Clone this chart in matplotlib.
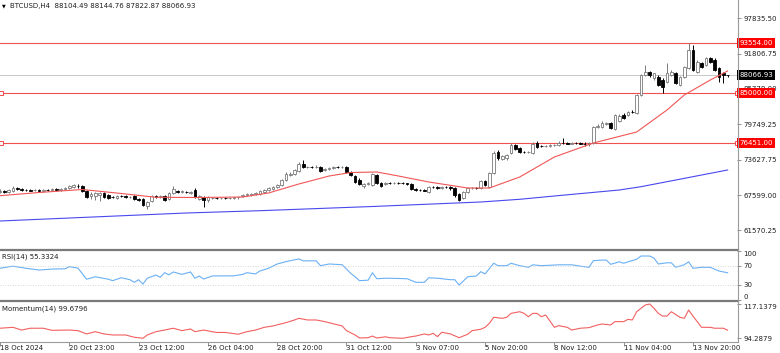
import matplotlib
matplotlib.use('Agg')
import matplotlib.pyplot as plt
import matplotlib.transforms as mtransforms
from matplotlib.lines import Line2D
import numpy as np

# ---- BTCUSD H4 candles ----
opens = [68126, 68297, 68126, 68297, 68810, 68639, 68468, 68468, 68400, 68468,
         68297, 68468, 68420, 68639, 68468, 68639, 68810, 68981, 69152, 69152,
         68297, 67442, 67442, 67613, 67955, 67613, 67271, 67100, 67442, 67442,
         67271, 67442, 66929, 66929, 65732, 66587, 67442, 67271, 67442, 66929,
         67955, 68297, 68126, 68126, 67955, 68468, 66929, 67271, 66758, 67100,
         67150, 67080, 67130, 67100, 67160, 67200, 67442, 67613, 67613, 67784,
         67784, 68126, 68468, 68639, 68981, 69323, 70178, 71033, 71204, 71717,
         72914, 72401, 72450, 72400, 72401, 71888, 72059, 72230, 72401, 72350,
         72401, 71546, 70862, 70178, 69152, 69494, 69323, 71033, 69665, 69494,
         69665, 69600, 69700, 69640, 69580, 69494, 68639, 68468, 68430, 68126,
         68981, 68930, 68810, 68981, 68900, 68810, 67784, 67100, 68126, 68810,
         68850, 68810, 70007, 68981, 71375, 74966, 73769, 73940, 74795, 76163,
         75650, 74966, 74930, 74795, 76505, 75992, 75950, 76050, 76130, 76163,
         76505, 76450, 76400, 76480, 76420, 76334, 76300, 76505, 79241, 79241,
         79754, 79925, 78899, 80267, 81293, 81293, 81806, 81635, 84713, 88133,
         88646, 87620, 87791, 87278, 86936, 88133, 88475, 86423, 87791, 89330,
         92408, 88646, 90185, 89843, 91040, 90698, 89330, 88475, 88104.49]
highs = [68639, 68468, 68639, 69152, 68981, 68810, 68639, 68639, 68639, 68639,
         68639, 68639, 68810, 68810, 68810, 68981, 69323, 69494, 69494, 69323,
         68468, 68126, 68126, 68126, 68126, 67784, 67442, 67613, 67613, 67613,
         67442, 67613, 67100, 67100, 66587, 67613, 67613, 67613, 67613, 68126,
         69152, 68468, 68468, 68297, 68297, 68810, 67613, 67442, 67442, 67271,
         67271, 67271, 67271, 67271, 67300, 67350, 67784, 67955, 67955, 68126,
         68468, 68639, 68981, 69152, 69494, 70349, 71546, 71546, 72059, 73256,
         73598, 72572, 72620, 72743, 72572, 72230, 72401, 72572, 72572, 72572,
         72572, 71717, 71033, 70520, 69665, 69836, 71375, 71204, 69836, 69836,
         69836, 69836, 69836, 69836, 69750, 69665, 68810, 68639, 68639, 69152,
         69152, 69152, 69152, 69152, 69100, 68981, 67955, 68297, 68981, 68981,
         68981, 70178, 70178, 71546, 75137, 75308, 74453, 74624, 76505, 76334,
         75821, 75137, 75137, 76676, 76847, 76163, 76163, 76334, 76334, 76847,
         77360, 76676, 76676, 76676, 76676, 76676, 76676, 79412, 79754, 80267,
         80096, 80096, 81464, 81464, 81635, 81977, 82148, 84884, 88304, 89843,
         88817, 88560, 88133, 87620, 90185, 88988, 88646, 87962, 89672, 93554,
         93263, 90698, 90356, 91211, 91211, 91040, 89501, 88646, 88144.76]
lows = [67955, 67955, 67955, 68126, 68468, 68297, 68297, 68297, 68297, 68126,
        68126, 68297, 68297, 68297, 68297, 68468, 68639, 68810, 68810, 68126,
        67100, 66929, 66758, 66587, 67100, 66929, 67100, 66929, 67271, 67100,
        67100, 66758, 66587, 65732, 65219, 66416, 67100, 67100, 66587, 66758,
        67784, 67955, 67955, 67955, 67784, 67100, 66758, 65561, 66416, 66929,
        66929, 66929, 66929, 66929, 66960, 67000, 67271, 67442, 67500, 67613,
        67613, 67955, 68297, 68468, 68810, 69152, 70007, 70862, 71033, 71546,
        72230, 72230, 72260, 72230, 71546, 71717, 71888, 72059, 72230, 72230,
        71375, 70862, 69665, 69323, 68810, 69323, 69152, 69494, 68981, 69323,
        69494, 69494, 69494, 69494, 69400, 68468, 68297, 68297, 68297, 67955,
        68810, 68639, 68639, 68810, 68468, 67271, 66587, 66929, 67955, 68639,
        68639, 68639, 69152, 68810, 71204, 73598, 73598, 73598, 74624, 75308,
        74795, 74795, 74795, 74624, 75650, 75821, 75821, 75821, 75992, 75992,
        76334, 76334, 76334, 76334, 76250, 75992, 75992, 76334, 79070, 79070,
        79583, 78899, 78728, 80096, 80609, 81122, 81635, 81464, 84542, 87962,
        87791, 87278, 86252, 85055, 86765, 87962, 86594, 86252, 87620, 89159,
        88817, 88475, 89330, 89672, 90185, 88817, 86936, 86765, 87822.87]
closes = [68297, 68126, 68468, 68810, 68639, 68468, 68440, 68380, 68470, 68297,
          68468, 68420, 68639, 68468, 68639, 68810, 69152, 69323, 69070, 68297,
          67271, 67784, 67955, 67955, 67271, 67100, 67230, 67442, 67400, 67271,
          67350, 66929, 66758, 65903, 66416, 67442, 67271, 67442, 66758, 67955,
          68639, 68126, 68297, 68080, 68126, 67271, 67442, 66758, 67271, 67150,
          67080, 67130, 67100, 67160, 67200, 67250, 67613, 67784, 67784, 67955,
          68297, 68468, 68810, 68981, 69323, 70178, 71204, 71204, 71888, 72914,
          72401, 72450, 72400, 72480, 71717, 72059, 72230, 72401, 72350, 72420,
          71546, 71033, 69836, 69494, 69494, 69665, 71204, 69665, 69152, 69665,
          69600, 69700, 69640, 69580, 69500, 68639, 68468, 68430, 68380, 68981,
          68930, 68810, 68981, 68900, 68860, 67613, 66758, 68126, 68810, 68850,
          68780, 70007, 69323, 71375, 74795, 73940, 74282, 74453, 76163, 75479,
          74966, 74930, 75050, 76334, 75821, 75950, 76050, 76130, 76200, 76505,
          76450, 76400, 76480, 76420, 76380, 76300, 76505, 79241, 79412, 79925,
          79900, 79070, 81293, 81122, 80780, 81806, 81780, 84713, 88133, 88646,
          88133, 88475, 86423, 86081, 88475, 88646, 86765, 87791, 89501, 92408,
          88988, 90356, 89501, 91040, 90356, 88988, 87791, 88133, 88066.93]

# moving averages (vertices)
ma_fast_bars = [0, 9, 19, 28, 36, 46, 56, 62, 69, 76, 81, 87, 92, 99, 108, 113,
                120, 128, 137, 147, 154, 158, 164, 168]
ma_fast_vals = [67493, 68040, 68553, 67870, 67220, 67186, 67271, 67955, 69494,
                70862, 71461, 71546, 70862, 69836, 68810, 68810, 70691, 74111,
                76505, 78386, 82148, 84713, 87278, 88817]
ma_slow_bars = [0, 43, 60, 86, 111, 120, 128, 143, 148, 168]
ma_slow_vals = [63167, 64535, 64928, 65647, 66416, 66878, 67442, 68468, 69032, 71888]

levels = [93554.00, 85000.00, 76451.00]
last_price = 88066.93
price_ticks = [61570.25, 67599.00, 73627.75, 79749.25, 85778.00, 91806.75, 97835.50]

rsi_bars = [0, 3, 6, 9, 12, 15, 16, 18, 20, 22, 25, 26, 28, 30, 31, 32, 33, 34, 36,
            37, 38, 39, 40, 42, 44, 45, 46, 47, 49, 54, 56, 57, 59, 60, 62, 64, 66,
            69, 70, 73, 74, 76, 79, 81, 82, 83, 85, 86, 87, 89, 90, 94, 96, 98, 99,
            101, 104, 105, 106, 108, 110, 111, 112, 114, 115, 117, 118, 120, 122,
            123, 125, 129, 132, 134, 136, 137, 139, 140, 141, 143, 144, 145, 147,
            148, 150, 151, 152, 154, 155, 156, 158, 159, 160, 162, 164, 166, 168]
rsi_vals = [64.6, 69, 64.6, 61, 63, 63.5, 68, 65, 42, 47, 42, 39, 45, 41, 35.6, 41,
            32, 44, 50.7, 46, 55.5, 51, 57, 52, 57, 44, 48.7, 42.4, 48.7, 49, 52,
            55.5, 53, 59, 64.6, 73.5, 78.3, 84, 80, 80, 70, 73.5, 72, 54, 47, 39, 40,
            55.5, 43, 44, 44, 43, 35.6, 35.6, 45, 44, 41, 41, 30, 47, 48.7, 57.6, 53,
            75, 70, 70, 75, 70, 66.6, 71.8, 70, 71.8, 71.8, 69, 66.6, 80.3, 81.6,
            81.6, 72.8, 78, 75, 78, 83.2, 90, 90, 85.8, 73.5, 76, 76, 66.6, 72, 78,
            64.6, 66.6, 66.6, 59, 55.33]

mom_bars = [0, 3, 5, 7, 10, 12, 16, 18, 20, 22, 24, 26, 29, 31, 33, 34, 36, 38, 40,
            42, 44, 45, 47, 49, 50, 52, 55, 57, 59, 61, 63, 66, 68, 69, 71, 73, 75,
            79, 80, 82, 83, 85, 86, 87, 89, 90, 93, 95, 96, 98, 99, 100, 101, 102,
            104, 106, 108, 109, 111, 112, 113, 114, 116, 117, 118, 120, 121, 122,
            123, 124, 125, 126, 128, 129, 131, 132, 134, 136, 138, 139, 141, 142,
            144, 145, 146, 147, 149, 150, 151, 152, 153, 154, 155, 157, 158, 159,
            160, 162, 164, 165, 167, 168]
mom_vals = [101.0, 101.6, 99.8, 101.0, 101.0, 99.6, 99.8, 99.4, 97.2, 98.7, 97.2,
            96.5, 96.5, 95.0, 94.3, 96.5, 98.7, 99.8, 101.0, 99.4, 100.5, 98.7, 99.8,
            98.7, 98.2, 98.2, 97.0, 98.7, 99.8, 101.6, 102.5, 104.7, 106.5, 107.6,
            106.5, 106.5, 105.4, 102.5, 99.4, 96.5, 94.5, 94.7, 95.8, 94.5, 95.3,
            94.7, 94.3, 95.4, 95.8, 97.2, 96.5, 97.6, 95.4, 98.3, 97.2, 94.7, 97.0,
            99.4, 100.3, 101.6, 104.3, 108.3, 107.6, 108.3, 110.9, 112.0, 110.9,
            108.7, 110.9, 110.9, 108.7, 109.8, 101.6, 102.7, 101.6, 99.8, 101.0,
            101.4, 103.2, 103.8, 103.2, 105.4, 105.4, 106.9, 106.5, 112.0, 116.5,
            117.14, 114.3, 110.9, 109.1, 109.1, 112.0, 108.3, 107.6, 113.1, 109.1,
            101.6, 101.6, 101.0, 101.0, 99.68]
mom_min, mom_max = 94.2879, 117.1379

tick_bars = [0, 16, 32, 48, 64, 80, 96, 112, 128, 144, 160]
tick_labels = ['18 Oct 2024', '20 Oct 23:00', '23 Oct 12:00', '26 Oct 04:00',
               '28 Oct 20:00', '31 Oct 12:00', '3 Nov 07:00', '5 Nov 20:00',
               '8 Nov 12:00', '11 Nov 04:00', '13 Nov 20:00']

FS = 5
W, H = 780, 353


def rect(x0, y0, x1, y1):
    return [x0 / W, 1 - y1 / H, (x1 - x0) / W, (y1 - y0) / H]


fig = plt.figure(figsize=(7.8, 3.53), dpi=100)
ax = fig.add_axes(rect(0, 0, 737, 248.5))
ax_rsi = fig.add_axes(rect(0, 250.5, 737, 300), sharex=ax)
ax_mom = fig.add_axes(rect(0, 302, 737, 341.7), sharex=ax)

for a in (ax, ax_rsi, ax_mom):
    for s in a.spines.values():
        s.set_visible(False)
    a.tick_params(axis='x', which='both', length=0, labelbottom=False)
    a.yaxis.tick_right()
    a.tick_params(axis='y', length=3, width=0.6, color='#808080', pad=1.5,
                  labelsize=FS, labelcolor='#202020')

ax.set_xlim(0.2536, 170.17)

# ---- candles ----
o = np.array(opens)
h = np.array(highs)
l = np.array(lows)
c = np.array(closes)
x = np.arange(len(c))
up = c >= o
edge = np.where(up, '#7a7a7a', '#000000')
face = np.where(up, '#ffffff', '#000000')
ax.vlines(x, l, h, colors=edge, linewidth=0.7, zorder=3)
ax.bar(x, np.abs(c - o), width=0.62, bottom=np.minimum(o, c), color=face,
       edgecolor=edge, linewidth=0.6, zorder=4)

ax.plot(ma_fast_bars, ma_fast_vals, color='#f25555', lw=0.8, zorder=5)
ax.plot(ma_slow_bars, ma_slow_vals, color='#4848f0', lw=0.8, zorder=5)

ax.axhline(last_price, color='#c8c8c8', lw=0.7, zorder=1)
x0, x1 = ax.get_xlim()
for i, lv in enumerate(levels):
    ax.axhline(lv, color='#f05050', lw=0.8, zorder=2)
    if i > 0:
        ax.plot([x0, x1], [lv, lv], ls='none', marker='s', ms=2.5, mfc='white',
                mec='#f03030', mew=0.6, clip_on=False, zorder=6)

ax.set_ylim(58464, 100958)
ax.set_yticks(price_ticks)
ax.set_yticklabels(['%.2f' % p for p in price_ticks])

btrans = mtransforms.blended_transform_factory(ax.transAxes, ax.transData)
for lv in levels:
    ax.text(1.003, lv, '%.2f' % lv, transform=btrans, ha='left', va='center',
            fontsize=FS, color='white', clip_on=False, zorder=10,
            bbox=dict(boxstyle='square,pad=0.3', fc='#ff0000', ec='none'))
ax.text(1.003, last_price, '%.2f' % last_price, transform=btrans, ha='left',
        va='center', fontsize=FS, color='white', clip_on=False, zorder=10,
        bbox=dict(boxstyle='square,pad=0.3', fc='#000000', ec='none'))

ax.text(0.003, 0.976, '\u25bc', transform=ax.transAxes, fontsize=3.5,
        ha='left', va='center', color='black')
ax.text(0.013, 0.976, 'BTCUSD,H4  %.2f %.2f %.2f %.2f' % (opens[-1], highs[-1], lows[-1], closes[-1]),
        transform=ax.transAxes, fontsize=FS, ha='left', va='center', color='#202020')

# ---- RSI ----
ax_rsi.plot(rsi_bars, rsi_vals, color='#6ab0f5', lw=0.8)
for lv in (70, 30):
    ax_rsi.axhline(lv, color='#c8c8c8', lw=0.6, ls=(0, (1, 2)))
ax_rsi.set_ylim(-1.0, 101.4)
ax_rsi.set_yticks([0, 30, 70, 100])
ax_rsi.set_yticklabels(['0', '30', '70', '100'])
for lab, va in zip(ax_rsi.get_yticklabels(), ['bottom', 'center', 'center', 'top']):
    lab.set_va(va)
ax_rsi.text(0.003, 0.87, 'RSI(14) %.4f' % 55.3324, transform=ax_rsi.transAxes,
            fontsize=FS, ha='left', va='center', color='#202020')

# ---- Momentum ----
ax_mom.plot(mom_bars, mom_vals, color='#f26060', lw=0.8)
ax_mom.set_ylim(92.03, 118.47)
ax_mom.set_yticks([mom_min, mom_max])
ax_mom.set_yticklabels(['%.4f' % mom_min, '%.4f' % mom_max])
ax_mom.get_yticklabels()[1].set_va('top')
ax_mom.text(0.003, 0.82, 'Momentum(14) %.4f' % 99.6796, transform=ax_mom.transAxes,
            fontsize=FS, ha='left', va='center', color='#202020')

# time axis
ax_mom.set_xticks(tick_bars)
ax_mom.tick_params(axis='x', length=3, width=0.6, color='#808080', direction='out')
xtrans = mtransforms.blended_transform_factory(ax_mom.transData, ax_mom.transAxes)
for b, lab in zip(tick_bars, tick_labels):
    ax_mom.annotate(lab, xy=(b, 0), xycoords=xtrans, xytext=(0, -2.5),
                    textcoords='offset points', ha='left', va='top', fontsize=FS,
                    color='#202020', annotation_clip=False)

# frame lines of the terminal window
def hline(y, x0, x1, color, lw):
    fig.add_artist(Line2D([x0 / W, x1 / W], [1 - y / H, 1 - y / H], color=color, lw=lw))

hline(249.5, 0, 737.5, '#7a7a7a', 1.6)
hline(301.0, 0, 737.5, '#7a7a7a', 1.6)
hline(342.0, 0, 737.5, '#9a9a9a', 0.8)
fig.add_artist(Line2D([737.5 / W, 737.5 / W], [1 - 342 / H, 1.0], color='#9a9a9a', lw=0.8))

fig.savefig('out.png', dpi=100)
